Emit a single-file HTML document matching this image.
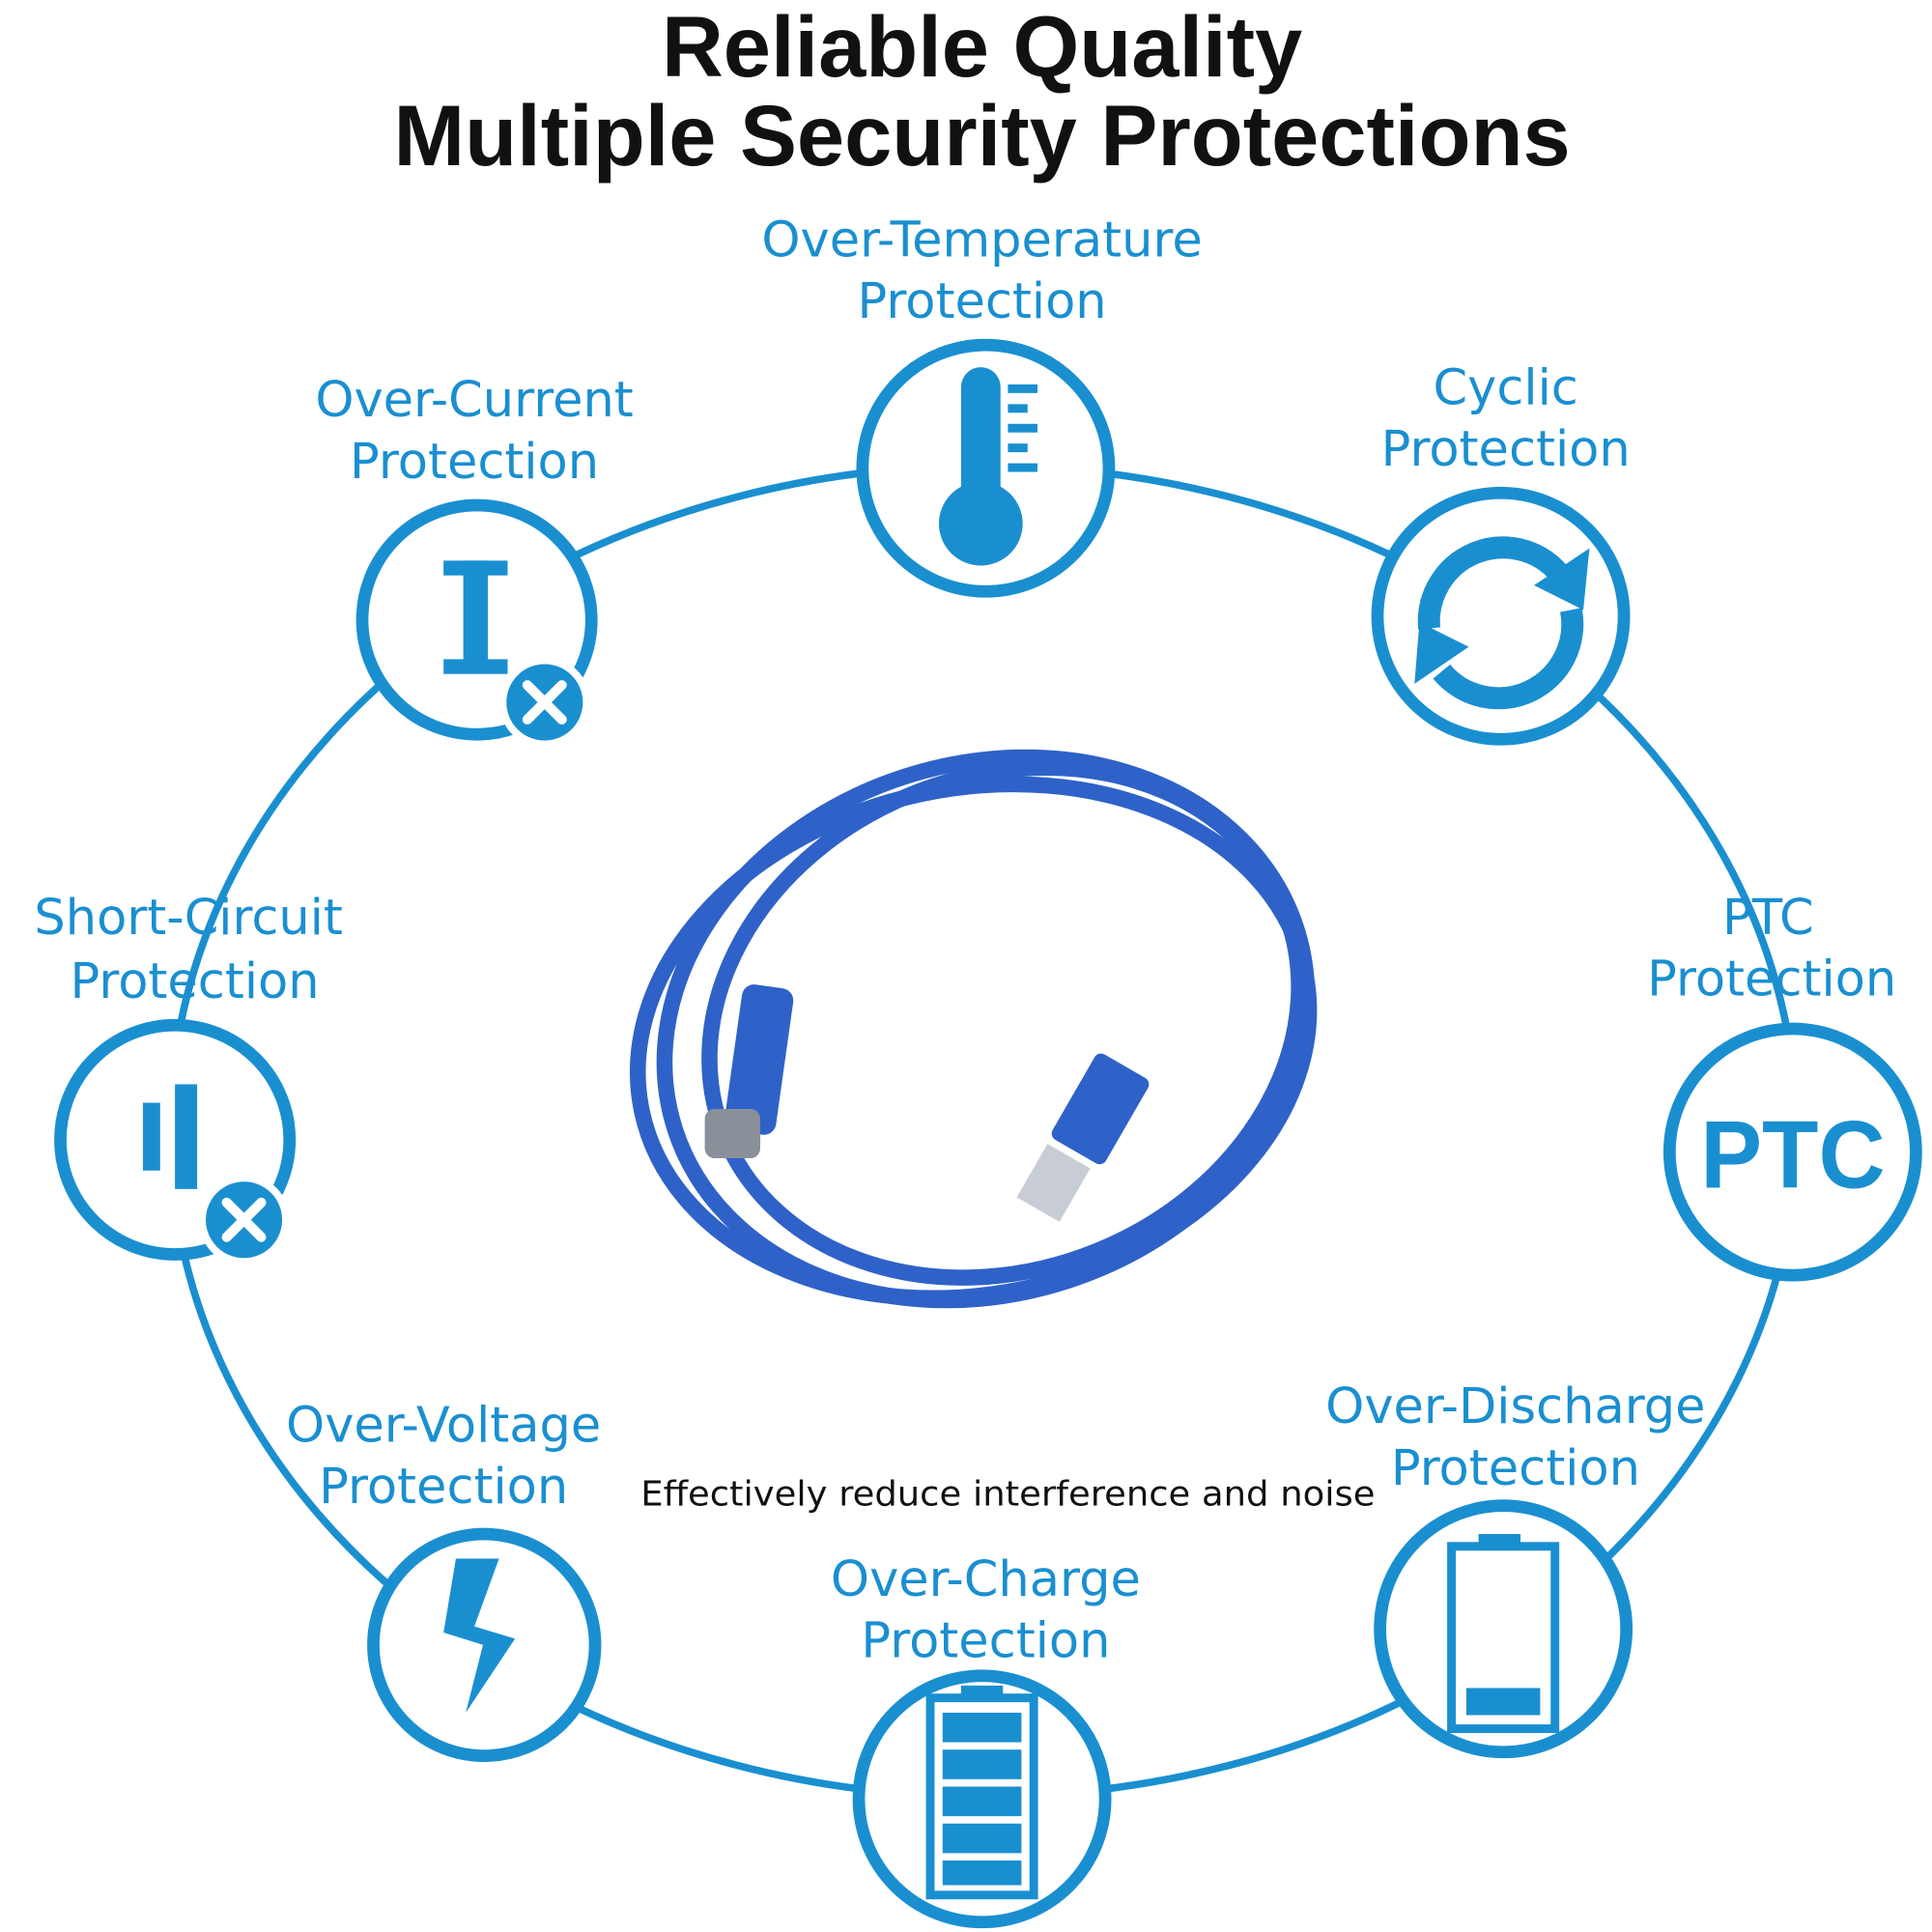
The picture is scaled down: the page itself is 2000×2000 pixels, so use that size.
<!DOCTYPE html>
<html><head><meta charset="utf-8"><style>
html,body{margin:0;padding:0;background:#fff;}
svg{display:block;}
</style></head><body>
<svg width="2000" height="2000" viewBox="0 0 1568 1568" xmlns="http://www.w3.org/2000/svg">
<rect width="1568" height="1568" fill="#fff"/>
<g font-family="Liberation Sans, sans-serif" font-weight="bold" text-anchor="middle" fill="#111">
<text x="797" y="62" font-size="70" textLength="520" lengthAdjust="spacingAndGlyphs">Reliable Quality</text>
<text x="797" y="134" font-size="70" textLength="955" lengthAdjust="spacingAndGlyphs">Multiple Security Protections</text>
</g>
<ellipse cx="798" cy="918" rx="660" ry="540" fill="none" stroke="#1a8fd0" stroke-width="6"/>
<!-- cable -->
<g fill="none" stroke="#2f62c8" stroke-width="13">
<ellipse cx="800" cy="835" rx="265" ry="215" transform="rotate(-18 800 835)"/>
<ellipse cx="815" cy="830" rx="245" ry="200" transform="rotate(-22 815 830)"/>
<ellipse cx="790" cy="845" rx="275" ry="205" transform="rotate(-12 790 845)"/>
</g>
<g fill="#2f62c8">
<rect x="595" y="800" width="42" height="120" rx="10" transform="rotate(8 616 860)"/>
<rect x="868" y="860" width="50" height="80" rx="6" transform="rotate(30 893 900)"/>
</g>
<rect x="835" y="935" width="40" height="50" fill="#c8ccd4" transform="rotate(30 855 960)"/>
<rect x="572" y="900" width="45" height="40" fill="#8a9099" rx="8"/>
<g fill="#fff" stroke="#1a8fd0" stroke-width="10">
<circle cx="800" cy="380" r="100"/>
<circle cx="387" cy="503" r="93"/>
<circle cx="1218" cy="500" r="100"/>
<circle cx="142" cy="925" r="93"/>
<circle cx="1455" cy="935" r="100"/>
<circle cx="393" cy="1335" r="90"/>
<circle cx="797" cy="1460" r="100"/>
<circle cx="1220" cy="1322" r="100"/>
</g>
<g fill="#1a8fd0">
<rect x="780" y="298" width="32" height="120" rx="16"/>
<circle cx="796" cy="425" r="34"/>
<rect x="818" y="312" width="24" height="7"/><rect x="818" y="328" width="16" height="7"/><rect x="818" y="344" width="24" height="7"/><rect x="818" y="360" width="16" height="7"/><rect x="818" y="376" width="24" height="7"/>
<rect x="360" y="455" width="52" height="12"/><rect x="376" y="455" width="20" height="90"/><rect x="360" y="535" width="52" height="12"/>
<circle cx="442" cy="570" r="34" stroke="#fff" stroke-width="6"/>
<rect x="116" y="895" width="14" height="55"/><rect x="142" y="880" width="18" height="85"/>
<circle cx="198" cy="990" r="34" stroke="#fff" stroke-width="6"/>
<text x="1455" y="964" font-family="Liberation Sans, sans-serif" font-weight="bold" font-size="78" text-anchor="middle" textLength="150" lengthAdjust="spacingAndGlyphs">PTC</text>
<polygon points="370,1265 405,1265 385,1320 418,1330 378,1390 392,1335 360,1325"/>
<rect x="780" y="1368" width="34" height="10"/>
<rect x="755" y="1378" width="84" height="160" fill="none" stroke="#1a8fd0" stroke-width="7"/>
<rect x="765" y="1390" width="64" height="24"/><rect x="765" y="1420" width="64" height="24"/><rect x="765" y="1450" width="64" height="24"/><rect x="765" y="1480" width="64" height="24"/><rect x="765" y="1510" width="64" height="20"/>
<rect x="1200" y="1245" width="34" height="10"/>
<rect x="1178" y="1255" width="84" height="148" fill="none" stroke="#1a8fd0" stroke-width="7"/>
<rect x="1190" y="1370" width="60" height="22"/>
</g>
<g stroke="#fff" stroke-width="8" stroke-linecap="round">
<line x1="428" y1="556" x2="456" y2="584"/><line x1="456" y1="556" x2="428" y2="584"/>
<line x1="184" y1="976" x2="212" y2="1004"/><line x1="212" y1="976" x2="184" y2="1004"/>
</g>
<g fill="none" stroke="#1a8fd0" stroke-width="18">
<path d="M1160 510 A60 60 0 0 1 1265 465"/>
<path d="M1275 495 A60 60 0 0 1 1170 545"/>
</g>
<polygon points="1290,445 1285,495 1245,475" fill="#1a8fd0"/>
<polygon points="1148,555 1152,505 1192,525" fill="#1a8fd0"/>
<g font-family="DejaVu Sans, Liberation Sans, sans-serif" font-size="40" fill="#1a8fd0" text-anchor="middle">
<text x="797" y="208">Over-Temperature</text><text x="797" y="258">Protection</text>
<text x="385" y="338">Over-Current</text><text x="385" y="388">Protection</text>
<text x="1222" y="328">Cyclic</text><text x="1222" y="378">Protection</text>
<text x="153" y="758">Short-Circuit</text><text x="158" y="810">Protection</text>
<text x="1435" y="758">PTC</text><text x="1438" y="808">Protection</text>
<text x="360" y="1170">Over-Voltage</text><text x="360" y="1220">Protection</text>
<text x="800" y="1295">Over-Charge</text><text x="800" y="1345">Protection</text>
<text x="1230" y="1155">Over-Discharge</text><text x="1230" y="1205">Protection</text>
</g>
<text x="818" y="1222" font-family="DejaVu Sans, sans-serif" font-size="28" fill="#111" text-anchor="middle" textLength="596" lengthAdjust="spacingAndGlyphs">Effectively reduce interference and noise</text>
</svg>
</body></html>
